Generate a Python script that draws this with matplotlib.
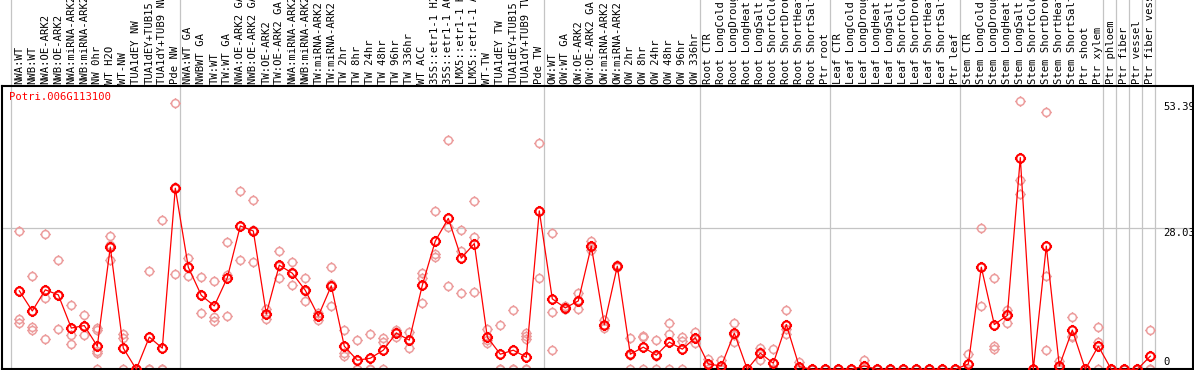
import numpy as np
import matplotlib
matplotlib.use("Agg")
import matplotlib.pyplot as plt
import matplotlib.transforms as mtransforms
from matplotlib.path import Path

gene = "Potri.006G113100"

samples = [
    "NWA:WT", "NWB:WT", "NWA:OE-ARK2", "NWB:OE-ARK2", "NWA:miRNA-ARK2", "NWB:miRNA-ARK2",
    "NW 0hr", "WT H2O", "WT-NW", "TUA1dEY NW", "TUA1dEY+TUB15", "TUA1dY+TUB9 NW", "Pde NW",
    "NWA:WT GA", "NWBWT GA", "TW:WT", "TW:WT GA", "NWA:OE-ARK2 GA", "NWB:OE-ARK2 GA",
    "TW:OE-ARK2", "TW:OE-ARK2 GA", "NWA:miRNA-ARK2", "NWB:miRNA-ARK2", "TW:miRNA-ARK2",
    "TW:miRNA-ARK2", "TW 2hr", "TW 8hr", "TW 24hr", "TW 48hr", "TW 96hr", "TW 336hr",
    "WT ACC", "35S::etr1-1 H2O", "35S::etr1-1 ACC", "LMX5::etr1-1 H2O", "LMX5::etr1-1 ACC",
    "WT-TW", "TUA1dEY TW", "TUA1dEY+TUB15", "TUA1dY+TUB9 TW", "Pde TW",
    "OW:WT", "OW:WT GA", "OW:OE-ARK2", "OW:OE-ARK2 GA", "OW:miRNA-ARK2", "OW:miRNA-ARK2",
    "OW 2hr", "OW 8hr", "OW 24hr", "OW 48hr", "OW 96hr", "OW 336hr",
    "Root CTR", "Root LongCold", "Root LongDrought", "Root LongHeat", "Root LongSalt",
    "Root ShortCold", "Root ShortDrought", "Root ShortHeat", "Root ShortSalt", "Ptr root",
    "Leaf CTR", "Leaf LongCold", "Leaf LongDrought", "Leaf LongHeat", "Leaf LongSalt",
    "Leaf ShortCold", "Leaf ShortDrought", "Leaf ShortHeat", "Leaf ShortSalt", "Ptr leaf",
    "Stem CTR", "Stem LongCold", "Stem LongDrought", "Stem LongHeat", "Stem LongSalt",
    "Stem ShortCold", "Stem ShortDrought", "Stem ShortHeat", "Stem ShortSalt",
    "Ptr shoot", "Ptr xylem", "Ptr phloem", "Ptr fiber", "Ptr vessel", "Ptr fiber vessel",
]

mean_vals = [
    15.6, 11.6, 15.8, 14.8, 8.2, 8.7, 4.6, 24.3, 4.2, 0.0, 6.4, 4.2, 36.0,
    20.3, 14.7, 12.6, 18.2, 28.5, 27.5, 11.0, 20.7, 19.1, 15.7, 10.6, 16.6, 4.6, 1.8,
    2.2, 3.8, 7.2, 5.8, 16.7, 25.5, 30.0, 22.1, 25.0, 6.4, 3.0, 3.8, 2.4, 31.5,
    14.0, 12.2, 13.6, 24.5, 8.9, 20.5, 3.0, 4.4, 2.8, 5.4, 4.0, 6.3,
    1.05, 0.66, 7.2, 0.0, 3.2, 1.2, 8.9, 0.5, 0.0, 0.0,
    0.0, 0.0, 0.66, 0.0, 0.0, 0.0, 0.0, 0.0, 0.0, 0.0,
    1.05, 20.3, 8.9, 10.7, 42.1, 0.0, 24.5, 0.66, 7.8, 0.0, 4.6,
    0.0, 0.0, 0.0, 2.6,
]

rep1 = [
    27.5, 18.5, 26.9, 21.7, 12.8, 10.7, 8.3, 26.5, 7.1, 0.0, 19.5, 29.7, 52.9,
    22.1, 18.3, 17.5, 25.4, 35.4, 33.6, 11.0, 23.5, 21.3, 18.1, 11.2, 20.3, 7.8, 5.8,
    7.0, 6.2, 7.8, 7.4, 19.2, 31.5, 45.5, 27.7, 33.4, 8.0, 8.9, 11.7, 7.2, 44.9,
    27.0, 12.6, 15.2, 25.5, 9.8, 20.8, 6.2, 6.6, 5.8, 9.2, 6.4, 7.5,
    2.0, 1.8, 9.3, 0.0, 4.3, 4.0, 11.7, 1.5, 0.0, 0.0,
    0.0, 0.0, 1.85, 0.0, 0.0, 0.0, 0.0, 0.0, 0.0, 0.0,
    3.0, 28.0, 18.1, 11.8, 53.39, 0.0, 51.1, 1.7, 10.3, 0.0, 8.5,
    0.0, 0.0, 0.0, 7.8,
]

rep2 = [
    10.0, 8.4, 14.1, 8.0, 6.8, 6.8, 7.8, 24.7, 6.2, 0.0, 0.0, 0.0, 18.9,
    18.5, 11.1, 10.4, 10.5, 21.7, 21.3, 10.0, 18.1, 16.7, 13.5, 9.8, 12.5, 3.2, 0.0,
    0.0, 5.4, 6.4, 4.2, 18.2, 22.9, 28.2, 23.5, 26.3, 5.8, 0.0, 0.0, 0.0, 18.1,
    11.3, 12.0, 11.9, 23.7, 8.2, 20.3, 0.0, 6.4, 0.0, 7.0, 0.0, 5.2,
    1.1, 0.0, 5.4, 0.0, 1.8, 0.0, 7.0, 0.0, 0.0, 0.0,
    0.0, 0.0, 0.0, 0.0, 0.0, 0.0, 0.0, 0.0, 0.0, 0.0,
    0.0, 12.5, 4.6, 9.3, 37.6, 0.0, 18.6, 0.0, 6.6, 0.0, 5.4,
    0.0, 0.0, 0.0, 0.0,
]

rep3 = [
    9.2, 7.8, 6.0, 14.7, 5.0, 8.6, 3.7, 21.7, 0.0, 0.0, 0.0, 0.0, 36.2,
    20.3, 14.7, 9.7, 18.7, 28.4, 27.6, 12.0, 20.5, 19.3, 15.5, 10.6, 17.0, 2.6, 0.0,
    0.0, 0.0, 7.4, 5.8, 13.1, 22.4, 16.5, 15.1, 15.3, 5.3, 0.0, 0.0, 0.0, 31.5,
    3.8, 12.0, 13.7, 24.4, 8.9, 20.4, 2.8, 0.0, 2.6, 0.0, 5.6, 6.2,
    0.0, 0.0, 6.9, 0.0, 3.5, 0.0, 8.0, 0.0, 0.0, 0.0,
    0.0, 0.0, 0.0, 0.0, 0.0, 0.0, 0.0, 0.0, 0.0, 0.0,
    0.0, 20.4, 4.0, 11.0, 34.8, 0.0, 3.8, 0.0, 6.4, 0.0, 0.0,
    0.0, 0.0, 0.0, 0.0,
]

extra_idx = [6, 6, 39, 39]
extra_val = [3.2, 0.0, 6.6, 6.1]

group_starts = [0, 13, 41, 53, 63, 73, 84, 85, 86, 87, 88]
y_labels = [53.39, 28.03, 0]
y_grid = [28.03]

# ---------------- layout ----------------
W, H = 1194, 370
fig = plt.figure(figsize=(W / 100, H / 100), dpi=100)
left_px, right_px, top_px, bot_px = 1.5, 1192.7, 85.7, 369.0
ax = fig.add_axes([left_px / W, (H - bot_px) / H,
                   (right_px - left_px) / W, (bot_px - top_px) / H])
x0_px, dx_px = 19.3, 13.0
scale, zero_px = 5.03, 369.3
ax.set_xlim((left_px - x0_px) / dx_px, (right_px - x0_px) / dx_px)
ax.set_ylim((zero_px - bot_px) / scale, (zero_px - top_px) / scale)
ax.set_xticks([])
ax.set_yticks([])
for sp in ax.spines.values():
    sp.set_color("black")
    sp.set_linewidth(1.5)

grid_col = "#c4c4c4"
for g in y_grid:
    ax.axhline(g, color=grid_col, lw=0.9, zorder=1)
ext_top = bot_px / (bot_px - top_px)
for s in group_starts:
    ax.axvline(s - 0.67, ymin=0, ymax=ext_top, color=grid_col, lw=0.9,
               clip_on=False, zorder=1)

# marker: circle with small outer ticks
circ = Path.unit_circle()
tk = 1.35
ticks = Path([(1, 0), (tk, 0), (-1, 0), (-tk, 0), (0, 1), (0, tk), (0, -1), (0, -tk)],
             [Path.MOVETO, Path.LINETO] * 4)
mk = Path.make_compound_path(circ, ticks)

x = np.arange(len(samples))
rep_col = "#ec9c9c"
for r in (rep1, rep2, rep3):
    ax.plot(x, r, ls="none", marker=mk, ms=7.6, mfc="none", mec=rep_col,
            mew=1.1, clip_on=False, zorder=2)
ax.plot(extra_idx, extra_val, ls="none", marker=mk, ms=7.6, mfc="none",
        mec=rep_col, mew=1.1, clip_on=False, zorder=2)
ax.plot(x, mean_vals, color="#ff0000", lw=0.9, clip_on=False, zorder=3)
ax.plot(x, mean_vals, ls="none", marker=mk, ms=8.0, mfc="none", mec="#ff0000",
        mew=1.5, clip_on=False, zorder=4)

# sample labels (rotated) above plot
trans = mtransforms.blended_transform_factory(ax.transData, ax.transAxes)
lab_y = (bot_px - 83.5) / (bot_px - top_px)
for i, s in enumerate(samples):
    ax.text(i, lab_y, s, rotation=90, ha="center", va="bottom",
            family="DejaVu Sans Mono", fontsize=7.6, color="black",
            transform=trans, clip_on=False)

# gene title
ax.text((9.3 - left_px) / (right_px - left_px), (bot_px - 97.0) / (bot_px - top_px),
        gene, ha="left", va="center", family="DejaVu Sans Mono", fontsize=7.6,
        color="#ff0000", transform=ax.transAxes)

# y value labels on the right
lab_x = (1163.0 - left_px) / (right_px - left_px)
offsets_px = [6.0, 4.5, -7.5]
for v, off in zip(y_labels, offsets_px):
    ax.text(lab_x, v - off / scale, f"{v:g}" if v == 0 else f"{v:.2f}",
            ha="left", va="center", family="DejaVu Sans Mono", fontsize=7.6,
            color="black", transform=mtransforms.blended_transform_factory(ax.transAxes, ax.transData))

fig.savefig("out.png", dpi=100)
